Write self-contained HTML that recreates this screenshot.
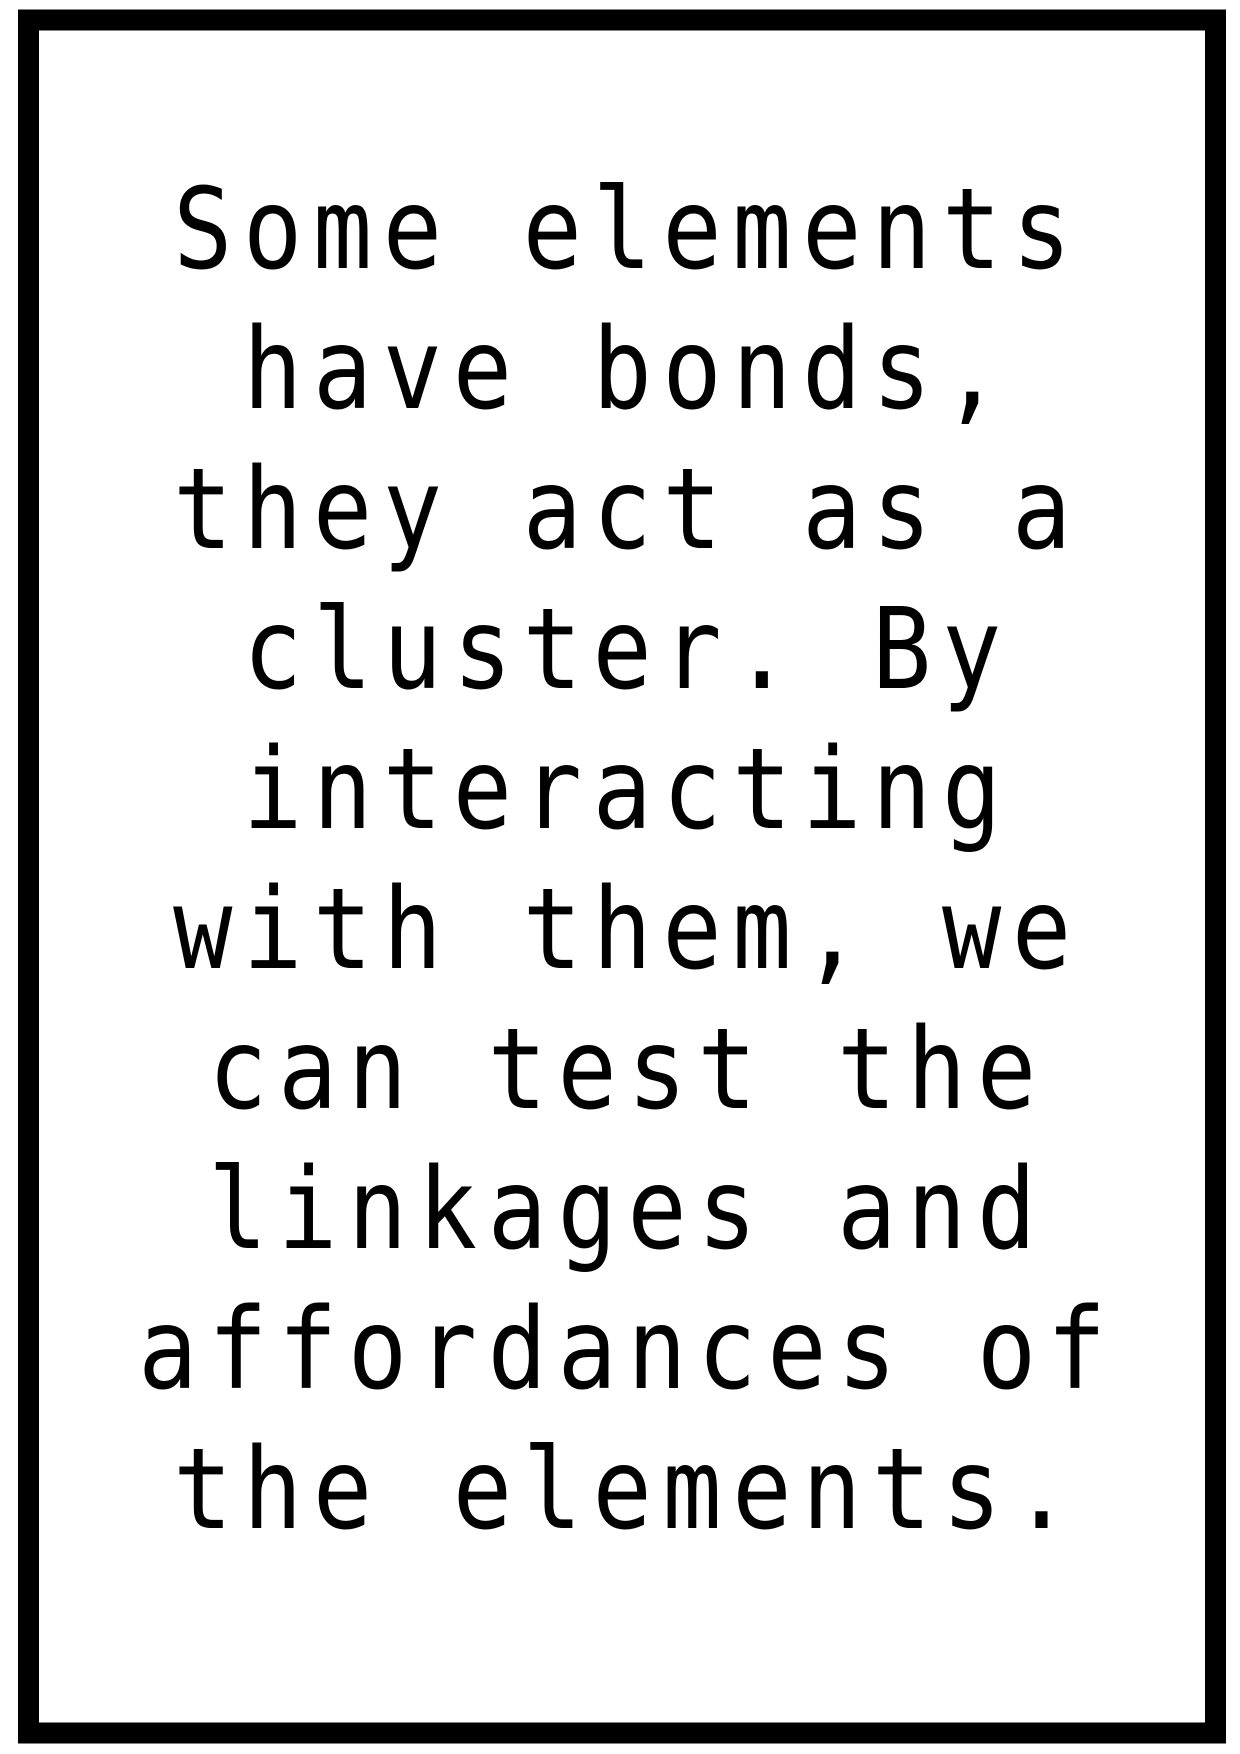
<!DOCTYPE html>
<html><head><meta charset="utf-8"><style>
html,body{margin:0;padding:0;background:#fff;width:1240px;height:1754px;overflow:hidden}
svg{display:block}
</style></head><body>
<svg width="1240" height="1754" viewBox="0 0 1240 1754">
<rect x="0" y="0" width="1240" height="1754" fill="#fff"/>
<rect x="28.5" y="20" width="1187" height="1713" fill="none" stroke="#000" stroke-width="21"/>
<g transform="scale(0.88,1)" font-family="'DejaVu Sans Mono','Liberation Mono',monospace" font-size="112" letter-spacing="12" fill="#000" text-anchor="middle">
<text x="713" y="268">Some elements</text>
<text x="713" y="408">have bonds,</text>
<text x="713" y="548">they act as a</text>
<text x="713" y="688">cluster. By</text>
<text x="713" y="828">interacting</text>
<text x="713" y="968">with them, we</text>
<text x="713" y="1108">can test the</text>
<text x="713" y="1248">linkages and</text>
<text x="713" y="1388">affordances of</text>
<text x="713" y="1528">the elements.</text>
</g>
</svg>
</body></html>
